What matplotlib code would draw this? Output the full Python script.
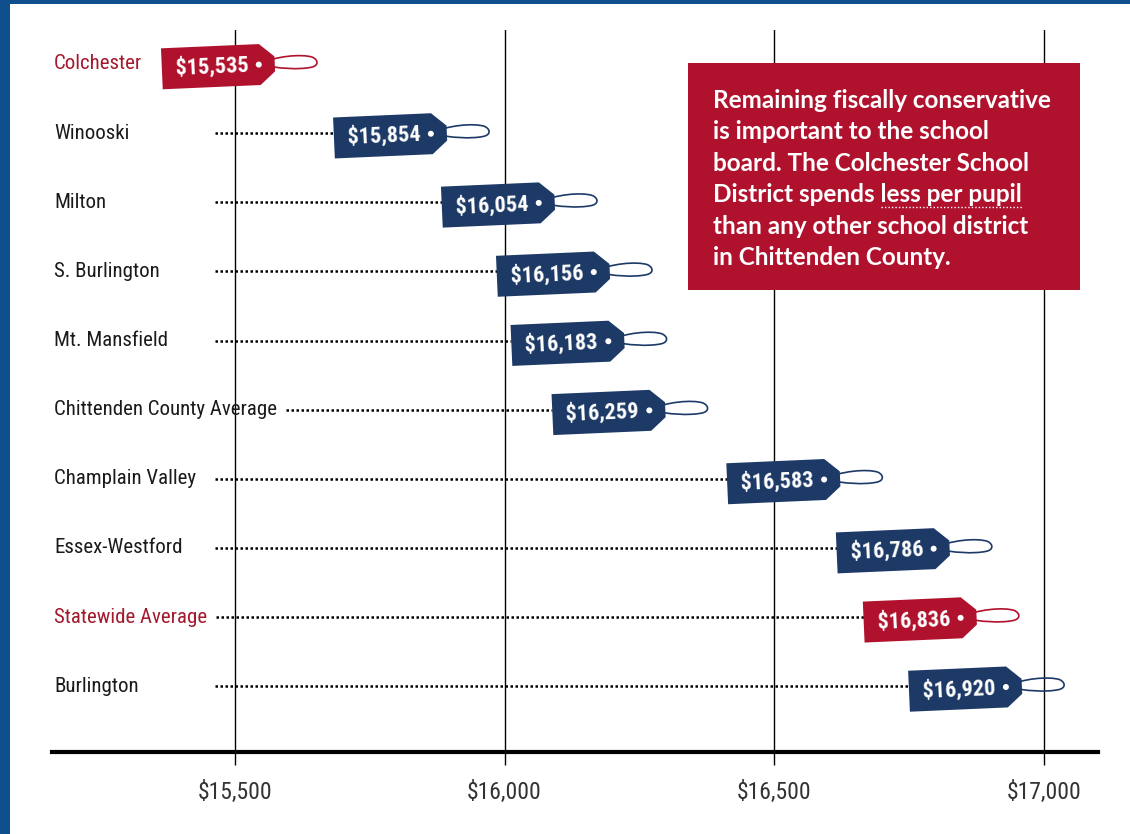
import numpy as np
import matplotlib.pyplot as plt
from matplotlib.patches import Polygon, Circle, Rectangle, PathPatch
from matplotlib.path import Path
from matplotlib.transforms import Affine2D, IdentityTransform

# data: per-pupil spending
districts = ['Colchester', 'Winooski', 'Milton', 'S. Burlington', 'Mt. Mansfield',
             'Chittenden County Average', 'Champlain Valley', 'Essex-Westford',
             'Statewide Average', 'Burlington']
spending = [15535, 15854, 16054, 16156, 16183, 16259, 16583, 16786, 16836, 16920]
highlight = [True, False, False, False, False, False, False, False, True, False]
xticks = [15500, 16000, 16500, 17000]
note_lines = ["Remaining fiscally conservative",
              "is important to the school",
              "board. The Colchester School",
              "District spends less per pupil",
              "than any other school district",
              "in Chittenden County."]
underlined = "less per pupil"

NAVY = '#1d3a67'
RED = '#b0122d'
LABEL_RED = '#a3192d'
BORDER = '#0f4f8e'
NARROW = ['Roboto Condensed', 'DejaVu Sans']
W, H = 1130, 834

fig = plt.figure(figsize=(W / 100, H / 100), dpi=100)
ax = fig.add_axes([52 / W, 82 / H, 1046 / W, 722 / H])
ax.set_xlim(15161, 17100)
ax.set_ylim(len(districts) - 0.05, -0.49)
renderer = fig.canvas.get_renderer()

# frame
for s in ['top', 'right', 'left']:
    ax.spines[s].set_visible(False)
ax.spines['bottom'].set_linewidth(3)
ax.set_yticks([])
ax.set_xticks(xticks)
ax.set_xticklabels(['${:,}'.format(t) for t in xticks], family=NARROW,
                   fontsize=17, color='#333333')
ax.tick_params(axis='x', direction='out', length=9.5, width=1, pad=11)
for t in xticks:
    ax.axvline(t, color='black', lw=1, zorder=1)

# tag geometry in pixels, relative to the pointed tip
tag_w, tag_h, cham_x, cham_y = 113, 41, 15, 13
tag_shape = np.array([(-tag_w, -tag_h / 2), (-cham_x, -tag_h / 2), (0, -tag_h / 2 + cham_y),
                      (0, tag_h / 2 - cham_y), (-cham_x, tag_h / 2), (-tag_w, tag_h / 2)])
string_verts = [(-16, 0), (0, 8), (28, 9), (38, 5), (44, 2), (44, -4), (36, -5),
                (24, -7), (4, -5), (-16, 0)]
string_codes = [Path.MOVETO] + [Path.CURVE4] * 9
line_start_px = 215
tip_offset = 21  # px
inv = ax.transData.inverted()

for i, (name, val, hl) in enumerate(zip(districts, spending, highlight)):
    col = RED if hl else NAVY
    _, ly = ax.transData.transform((0, i))
    lab = fig.text(54 / W, ly / H, name, ha='left', va='center',
                   fontsize=15, family=NARROW, color=LABEL_RED if hl else '#1a1a1a')
    lab_right = lab.get_window_extent(renderer).x1
    px, py = ax.transData.transform((spending[i], i))
    px += tip_offset
    rot = Affine2D().rotate_deg(2.5).translate(px, py)
    left_px = rot.transform((-tag_w, 0))[0]
    start_px = max(line_start_px, lab_right + 9)
    if left_px > start_px:
        x0 = inv.transform((start_px, py))[0]
        x1 = inv.transform((left_px, py))[0]
        ax.plot([x0, x1], [i, i], color='black', lw=1.8,
                linestyle=(0, (1, 1)), zorder=2)
    ax.add_patch(Polygon(rot.transform(tag_shape), closed=True, facecolor=col,
                         edgecolor='none', transform=IdentityTransform(), zorder=3,
                         clip_on=False))
    ax.add_patch(PathPatch(Path(rot.transform(string_verts), string_codes), facecolor='none',
                           edgecolor=col, lw=1.2, transform=IdentityTransform(), zorder=4,
                           clip_on=False))
    hx, hy = rot.transform((-16, 0))
    ax.add_patch(Circle((hx, hy), 3, facecolor='white', edgecolor='none',
                        transform=IdentityTransform(), zorder=5, clip_on=False))
    tx, ty = rot.transform((-tag_w + 50, 0))
    ax.text(tx, ty, '${:,}'.format(val), transform=IdentityTransform(), ha='center',
            va='center', rotation=2.5, rotation_mode='anchor', color='white',
            fontsize=16, fontweight='bold', family=NARROW, zorder=6)

# callout box
fig.add_artist(Rectangle((688 / W, 544 / H), 392 / W, 227 / H,
                         transform=fig.transFigure, facecolor=RED, edgecolor='none'))
note_font = dict(fontsize=17.5, fontweight='bold', family=['Lato', 'DejaVu Sans'])
for k, line in enumerate(note_lines):
    base = H - (108 + 31.4 * k)
    t = fig.text(713 / W, base / H, line, ha='left', va='baseline', color='white', **note_font)
    if underlined in line:
        full = t.get_window_extent(renderer)
        tail = fig.text(0, 0, line[line.index(underlined):], **note_font)
        tw = tail.get_window_extent(renderer).width
        tail.remove()
        fig.add_artist(plt.Line2D([(full.x1 - tw) / W, full.x1 / W],
                                  [(base - 5) / H, (base - 5) / H], color='white',
                                  lw=1, linestyle=(0, (1, 1.5)),
                                  transform=fig.transFigure))

# page border
fig.add_artist(Rectangle((0, 0), 10 / W, 1, transform=fig.transFigure,
                         facecolor=BORDER, edgecolor='none'))
fig.add_artist(Rectangle((0, 1 - 4 / H), 1, 4 / H, transform=fig.transFigure,
                         facecolor=BORDER, edgecolor='none'))

fig.savefig('out.png', dpi=100)
